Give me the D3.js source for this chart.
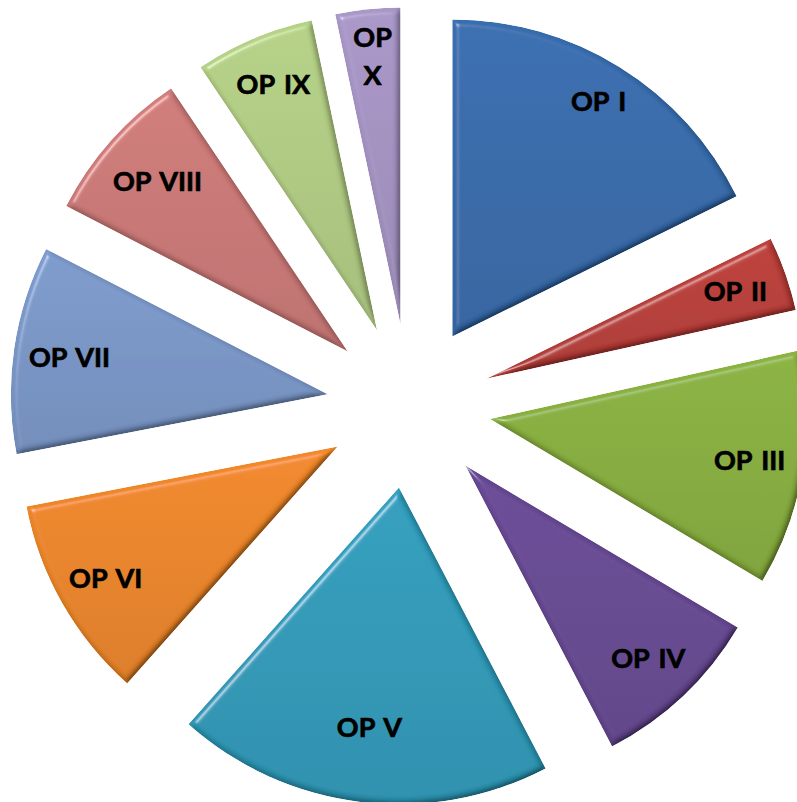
<!DOCTYPE html>
<html>
<head>
<meta charset="utf-8">
<script src="https://cdn.jsdelivr.net/npm/d3@7"></script>
<style>
  html, body { margin: 0; padding: 0; background: #fff; overflow: hidden; }
  text { font-family: Lato, "Open Sans", sans-serif; font-weight: bold; word-spacing: 3px; }
</style>
</head>
<body>
<div id="chart"></div>
<script>
// Pie data
const categories = ['OP I', 'OP II', 'OP III', 'OP IV', 'OP V', 'OP VI', 'OP VII', 'OP VIII', 'OP IX', 'OP X'];
const values = [17.7, 3.8, 12.0, 8.8, 19.2, 10.4, 10.6, 8.0, 6.1, 3.3];
const colors = ['#376CAD', '#BA3E39', '#89B03F', '#684A94', '#2F9CBB', '#EE8728', '#7B98C9', '#CC7A78', '#B3CE85', '#A694C4'];

const width = 797, height = 802;
const cx = 409, cy = 406;
const radius = 317;
const explode = 82;
// distance of each label from its slice tip (Excel "best fit" spots)
const labelDist = [277, 264, 263, 266, 242, 267, 261, 255, 267, 269];

const svg = d3.select('#chart')
    .append('svg')
    .attr('width', width)
    .attr('height', height)
    .attr('viewBox', `0 0 ${width} ${height}`);

const defs = svg.append('defs');

// bevel-ish look: blurred alpha used as a bump map
const filter = defs.append('filter')
    .attr('id', 'bevel')
    .attr('x', '-10%').attr('y', '-10%')
    .attr('width', '120%').attr('height', '120%');

filter.append('feGaussianBlur')
    .attr('in', 'SourceAlpha')
    .attr('stdDeviation', 3)
    .attr('result', 'blur');

filter.append('feDiffuseLighting')
    .attr('in', 'blur')
    .attr('surfaceScale', 4)
    .attr('diffuseConstant', 1.155)
    .attr('lighting-color', '#fff')
    .attr('result', 'diff')
    .append('feDistantLight')
    .attr('azimuth', 225)
    .attr('elevation', 60);

filter.append('feSpecularLighting')
    .attr('in', 'blur')
    .attr('surfaceScale', 4)
    .attr('specularConstant', 0.35)
    .attr('specularExponent', 60)
    .attr('lighting-color', '#fff')
    .attr('result', 'spec')
    .append('feDistantLight')
    .attr('azimuth', 225)
    .attr('elevation', 50);

filter.append('feComposite')
    .attr('in', 'SourceGraphic').attr('in2', 'diff')
    .attr('operator', 'arithmetic')
    .attr('k1', 1).attr('k2', 0).attr('k3', 0).attr('k4', 0)
    .attr('result', 'shaded');

filter.append('feComposite')
    .attr('in', 'spec').attr('in2', 'SourceAlpha')
    .attr('operator', 'in')
    .attr('result', 'specIn');

filter.append('feComposite')
    .attr('in', 'shaded').attr('in2', 'specIn')
    .attr('operator', 'arithmetic')
    .attr('k1', 0).attr('k2', 1).attr('k3', 1).attr('k4', 0)
    .attr('result', 'lit');

filter.append('feComposite')
    .attr('in', 'lit').attr('in2', 'SourceAlpha')
    .attr('operator', 'in');

// vertical gradient per slice, a touch lighter on top
colors.forEach((c, i) => {
    const g = defs.append('linearGradient')
        .attr('id', 'grad' + i)
        .attr('x1', 0).attr('y1', 0)
        .attr('x2', 0).attr('y2', 1);
    g.append('stop').attr('offset', '0%').attr('stop-color', d3.color(c).brighter(0.05));
    g.append('stop').attr('offset', '100%').attr('stop-color', d3.color(c).darker(0.22));
});

const pie = d3.pie().sort(null).value(d => d.value);
const arc = d3.arc().innerRadius(0).outerRadius(radius);

const data = pie(categories.map((name, i) => ({ name, value: values[i], i })));

const slices = svg.append('g')
    .attr('class', 'slices')
    .attr('transform', `translate(${cx},${cy})`)
    .selectAll('g')
    .data(data)
    .enter()
    .append('g')
    .attr('transform', d => {
        const a = (d.startAngle + d.endAngle) / 2;
        return `translate(${explode * Math.sin(a)},${-explode * Math.cos(a)})`;
    });

slices.append('path')
    .attr('d', arc)
    .style('fill', d => `url(#grad${d.data.i})`)
    .attr('filter', 'url(#bevel)');

// labels
const labels = slices.append('text')
    .attr('text-anchor', 'middle')
    .style('font-size', '27px')
    .style('fill', '#000')
    .style('stroke', '#000')
    .style('stroke-width', 0.7)
    .attr('transform', d => {
        const a = (d.startAngle + d.endAngle) / 2;
        const r = labelDist[d.data.i];
        return `translate(${r * Math.sin(a)},${-r * Math.cos(a)})`;
    });

labels.each(function (d) {
    const t = d3.select(this);
    const a = d.endAngle - d.startAngle;
    const room = 2 * labelDist[d.data.i] * Math.sin(a / 2);
    t.text(d.data.name);
    const w = this.getComputedTextLength();
    if (w > room + 5) {
        // narrow slice: one word per line
        const words = d.data.name.split(' ');
        t.text(null);
        const lh = 38;
        words.forEach((wd, k) => {
            t.append('tspan')
                .attr('x', 0)
                .attr('y', (k - (words.length - 1) / 2) * lh)
                .attr('dy', '0.35em')
                .text(wd);
        });
    } else {
        t.attr('dy', '0.35em');
    }
});
</script>
</body>
</html>
